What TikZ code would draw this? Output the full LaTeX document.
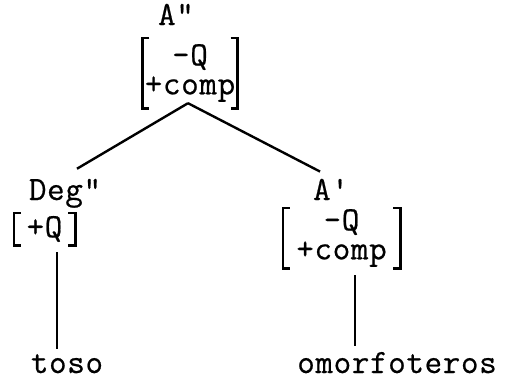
\documentclass[tikz,border=0pt]{standalone}
\usepackage{fontspec}
\setmonofont{Latin Modern Mono}[LetterSpace=2,FakeBold=0.6]
\begin{document}
\begin{tikzpicture}[x=1pt,y=-1pt]
    % Define styles
    \tikzset{
        cat/.style={font=\ttfamily\fontsize{34}{29}\selectfont, inner sep=0pt, anchor=base},
        feat/.style={font=\ttfamily\fontsize{34}{29}\selectfont, inner sep=0pt, align=center},
        branch/.style={line width=2.4pt},
        bracket/.style={line width=2.6pt}
    }
    \useasboundingbox (0,0) rectangle (505,380);

    % Root category and its features
    \node[cat] (top) at (176,25) {A"};
    \node[feat, minimum width=95pt, minimum height=70pt] (topfeat) at (190,73) {-Q\\+comp};

    % Daughters
    \node[cat] (deg) at (65,200) {Deg"};
    \node[feat, minimum width=61pt, minimum height=32pt] (degfeat) at (44.5,229) {+Q};
    \node[cat] (bar) at (331,200) {A'};
    \node[feat, minimum width=117pt, minimum height=60pt] (barfeat) at (341.5,238) {-Q\\+comp};

    % Words
    \node[cat] (toso) at (67,373) {toso};
    \node[cat] (omorf) at (397,373) {omorfoteros};

    % Draw feature brackets
    \foreach \n in {topfeat,degfeat,barfeat} {
        \draw[bracket] ([xshift=7pt]\n.north west) -- (\n.north west) -- (\n.south west) -- ([xshift=7pt]\n.south west);
        \draw[bracket] ([xshift=-7pt]\n.north east) -- (\n.north east) -- (\n.south east) -- ([xshift=-7pt]\n.south east);
    }

    % Draw branches
    \draw[branch] ([xshift=-2pt,yshift=5pt]topfeat.south) -- ([xshift=12pt,yshift=10pt]deg.north);
    \draw[branch] ([xshift=-2pt,yshift=5pt]topfeat.south) -- ([xshift=-11pt,yshift=7pt]bar.north);
    \draw[branch] ([xshift=12.5pt,yshift=-7pt]degfeat.south) -- ([xshift=-10pt,yshift=5pt]toso.north);
    \draw[branch] ([xshift=13.5pt,yshift=-7pt]barfeat.south) -- ([xshift=-42pt,yshift=6pt]omorf.north);
\end{tikzpicture}
\end{document}
